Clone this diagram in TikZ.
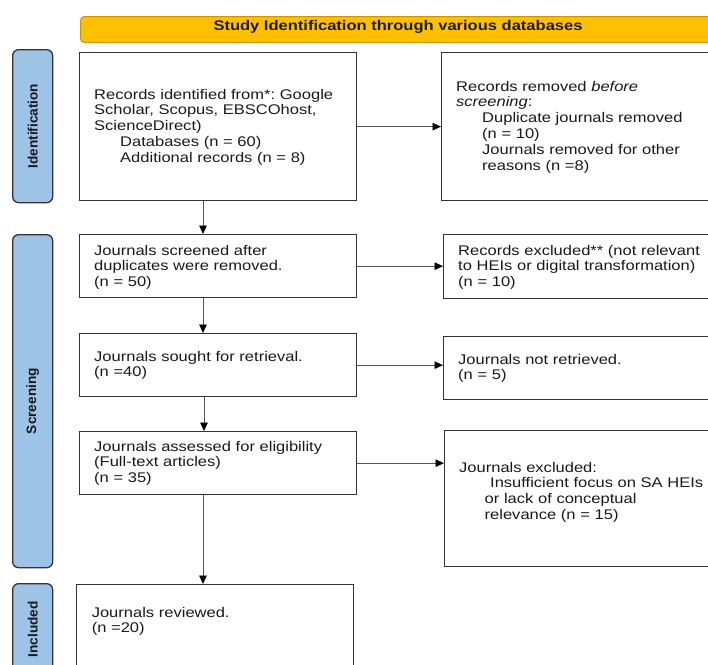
\documentclass[tikz,border=0pt]{standalone}
\usepackage{fontspec}
\setmainfont{Liberation Sans}[FakeStretch=1.18]
\newfontfamily\sidefont{Liberation Sans}
\usetikzlibrary{arrows.meta}
\definecolor{hdrfill}{HTML}{FFC000}
\definecolor{hdrline}{HTML}{C99700}
\definecolor{barfill}{HTML}{9DC3E6}
\definecolor{boxline}{HTML}{333333}
\definecolor{arrline}{HTML}{555555}
\definecolor{txt}{HTML}{1A1A1A}
\frenchspacing
\begin{document}
\begin{tikzpicture}[x=1pt,y=-1pt,
  box/.style={draw=boxline, line width=1.3pt, fill=white, rectangle, anchor=north west, inner sep=0pt},
  bar/.style={draw=boxline, line width=1.3pt, fill=barfill, rounded corners=6pt, anchor=north west, inner sep=0pt, minimum width=40pt},
  btext/.style={anchor=base west, align=left, text width=262pt, inner sep=0pt, font=\frenchspacing\fontsize{14}{15.8}\selectfont, text=txt},
  sidelabel/.style={rotate=90, inner sep=0pt, font=\sidefont\bfseries\fontsize{13.6}{14}\selectfont, text=txt},
  arr/.style={draw=arrline, line width=0.9pt, -{Triangle[length=8.5pt,width=7.5pt,color=black]}},
]
\useasboundingbox (0,0) rectangle (708,664);
\clip (0,0) rectangle (708,664);

% header
\node[anchor=north west, draw=hdrline, fill=hdrfill, line width=1pt, rounded corners=4pt,
      minimum width=640pt, minimum height=26pt, inner sep=0pt] (hdr) at (80,16) {};
\node[font=\bfseries\fontsize{14}{16}\selectfont, text=txt] (hdrtxt) at (398,26.5)
  {Study Identification through various databases};

% side bars
\node[bar, minimum height=153pt] (sid) at (12,49) {};
\node[sidelabel] (sidt) at (sid.center) {Identification};
\node[bar, minimum height=333pt] (ssc) at (12,234) {};
\node[sidelabel] (ssct) at (ssc.center) {Screening};
\node[bar, minimum height=91pt] (sin) at (12,583) {};
\node[sidelabel] (sint) at (sin.center) {Included};

% boxes
\node[box, minimum width=277pt, minimum height=148pt] (b1) at (79,52) {};
\node[box, minimum width=275pt, minimum height=148pt] (b2) at (441,52) {};
\node[box, minimum width=277pt, minimum height=63pt] (b3) at (79,234) {};
\node[box, minimum width=273pt, minimum height=64pt] (b4) at (443,234) {};
\node[box, minimum width=277pt, minimum height=63pt] (b5) at (79,333) {};
\node[box, minimum width=273pt, minimum height=63pt] (b6) at (443,336) {};
\node[box, minimum width=277pt, minimum height=63pt] (b7) at (79,431) {};
\node[box, minimum width=272pt, minimum height=136pt] (b8) at (444,430) {};
\node[box, minimum width=277pt, minimum height=100pt] (b9) at (76,584) {};

% texts
\node[btext] (t1) at (94,99) {Records identified from*: Google\\
Scholar, Scopus, EBSCOhost,\\
ScienceDirect)\\
\hspace*{26pt}Databases (n = 60)\\
\hspace*{26pt}Additional records (n = 8)};
\node[btext] (t2) at (456,91) {Records removed \textit{before}\\
\textit{screening}:\\
\hspace*{26pt}Duplicate journals removed\\
\hspace*{26pt}(n = 10)\\
\hspace*{26pt}Journals removed for other\\
\hspace*{26pt}reasons (n =8)};
\node[btext] (t3) at (94,255) {Journals screened after\\
duplicates were removed.\\
(n = 50)};
\node[btext] (t4) at (458,255) {Records excluded** (not relevant\\
to HEIs or digital transformation)\\
(n = 10)};
\node[btext] (t5) at (94,361) {Journals sought for retrieval.\\
(n =40)};
\node[btext] (t6) at (458,364) {Journals not retrieved.\\
(n = 5)};
\node[btext] (t7) at (94,451) {Journals assessed for eligibility\\
(Full-text articles)\\
(n = 35)};
\node[btext] (t8) at (459,472) {Journals excluded:\\
\hspace*{31pt}Insufficient focus on SA HEIs\\
\hspace*{25.5pt}or lack of conceptual\\
\hspace*{25.5pt}relevance (n = 15)};
\node[btext] (t9) at (91.6,617) {Journals reviewed.\\
(n =20)};

% arrows
\draw[arr] ([xshift=124pt]b1.south west) -- ([xshift=124pt]b3.north west);
\draw[arr] (b1.east) -- (b1.east -| b2.west);
\draw[arr] ([xshift=124pt]b3.south west) -- ([xshift=124pt]b5.north west);
\draw[arr] (b3.east) -- (b3.east -| b4.west);
\draw[arr] ([xshift=125pt]b5.south west) -- ([xshift=125pt]b7.north west);
\draw[arr] (b5.east) -- (b5.east -| b6.west);
\draw[arr] ([xshift=124pt]b7.south west) -- ([xshift=127pt]b9.north west);
\draw[arr] (b7.east) -- (b7.east -| b8.west);
\end{tikzpicture}
\end{document}
